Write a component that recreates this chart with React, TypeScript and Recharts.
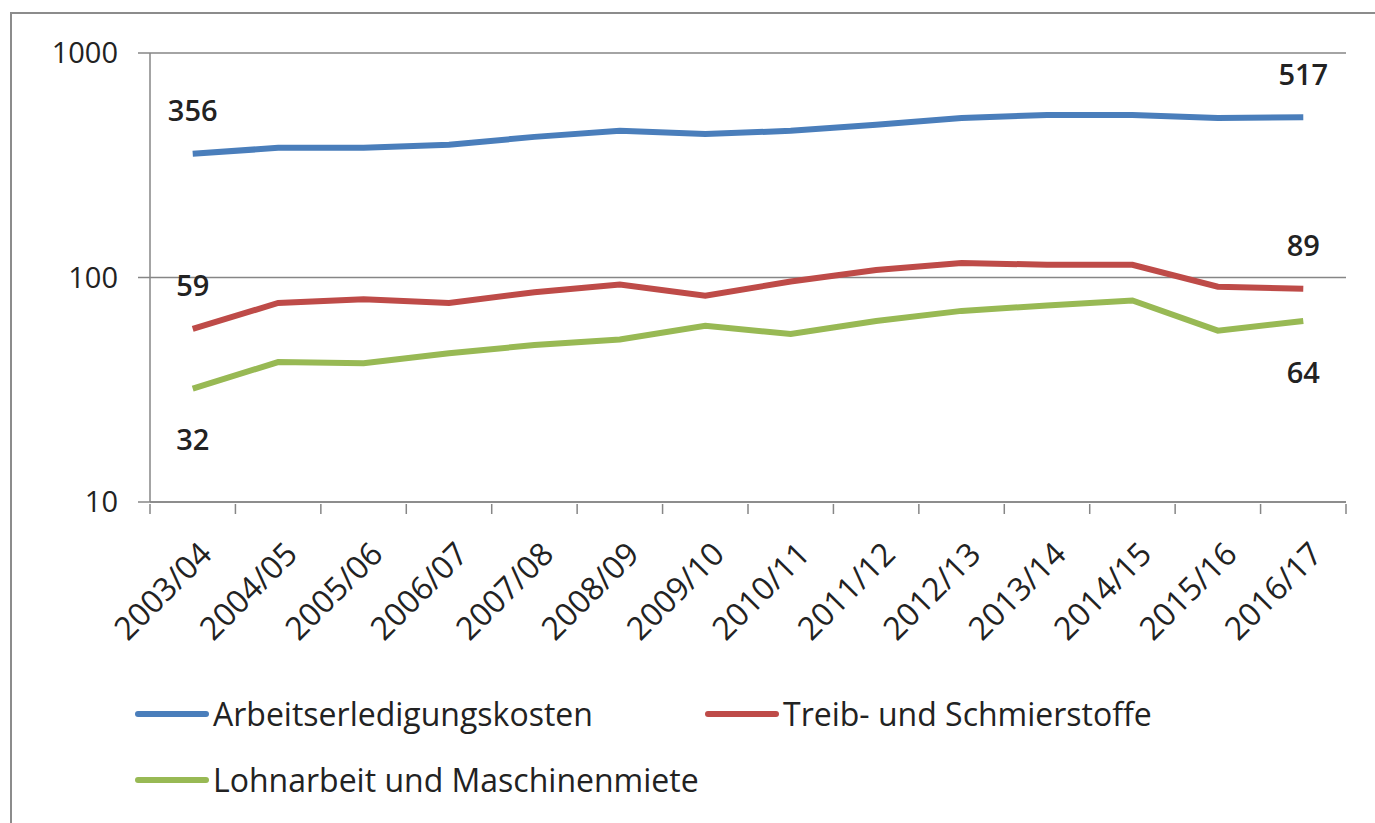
import React from 'react';
import { LineChart, Line, XAxis, YAxis, CartesianGrid, LabelList } from 'recharts';

const categories = [
  '2003/04', '2004/05', '2005/06', '2006/07', '2007/08', '2008/09', '2009/10',
  '2010/11', '2011/12', '2012/13', '2013/14', '2014/15', '2015/16', '2016/17',
];
const arbeitserledigung = [356, 378, 378, 390, 423, 450, 436, 450, 479, 514, 530, 530, 514, 517];
const treibstoffe = [59, 77, 80, 77, 86, 93, 83, 96, 108, 116, 114, 114, 91, 89];
const lohnarbeit = [32, 42, 41.5, 46, 50, 53, 61, 56, 64, 71, 75, 79, 58, 64];
const yTicks = [10, 100, 1000];

const seriesNames = ['Arbeitserledigungskosten', 'Treib- und Schmierstoffe', 'Lohnarbeit und Maschinenmiete'];
const colors = ['#4a7ebb', '#be4b48', '#98b954'];

const data = categories.map((c, i) => ({
  year: c,
  a: arbeitserledigung[i],
  t: treibstoffe[i],
  l: lohnarbeit[i],
}));

const FONT = '"Open Sans", sans-serif';
const GRID = '#868686';
const BAND = (1346 - 150) / categories.length;

// Excel style: tick marks between categories, labels rotated
const XTick = (props: any) => {
  const { x, y, payload, index } = props;
  const last = index === categories.length - 1;
  return (
    <g>
      <line x1={x - BAND / 2} x2={x - BAND / 2} y1={y} y2={y + 10} stroke={GRID} strokeWidth={1.5} />
      {last && <line x1={x + BAND / 2} x2={x + BAND / 2} y1={y} y2={y + 10} stroke={GRID} strokeWidth={1.5} />}
      <text
        x={x + 21}
        y={y + 52}
        textAnchor="end"
        transform={`rotate(-45, ${x + 21}, ${y + 52})`}
        fontSize={32}
        fontFamily={FONT}
        fill="#222"
      >
        {payload.value}
      </text>
    </g>
  );
};

// only first and last values get a label
const endLabel = (dy: number) => (props: any) => {
  const { x, y, value, index } = props;
  if (index !== 0 && index !== categories.length - 1) return null;
  return (
    <text x={x} y={y + dy} textAnchor="middle" dominantBaseline="central" fontSize={29} fontWeight={600} fontFamily={FONT} fill="#222">
      {Math.round(value)}
    </text>
  );
};

const LegendItem = ({ name, color, left, top }: { name: string; color: string; left: number; top: number }) => (
  <div style={{ position: 'absolute', left, top, display: 'flex', alignItems: 'center', fontFamily: FONT, fontSize: 32, color: '#222', whiteSpace: 'nowrap' }}>
    <div style={{ width: 74, height: 6, background: color, borderRadius: 3, marginRight: 4 }} />
    <span>{name}</span>
  </div>
);

export default function App() {
  return (
    <div style={{ position: 'absolute', left: 0, top: 0, width: 1375, height: 823, background: '#fff', overflow: 'hidden' }}>
      <div style={{ position: 'absolute', left: 10, top: 12, width: 1400, height: 900, borderTop: '2px solid #8c8c8c', borderLeft: '2px solid #8c8c8c' }} />
      <div style={{ position: 'absolute', left: 0, top: 0 }}>
        <LineChart width={1375} height={823} data={data} margin={{ top: 53, right: 29, left: 10, bottom: 171 }}>
          <CartesianGrid vertical={false} stroke={GRID} strokeWidth={1.5} />
          <XAxis
            dataKey="year"
            height={150}
            padding={{ left: BAND / 2, right: BAND / 2 }}
            axisLine={{ stroke: GRID, strokeWidth: 1.5 }}
            tickLine={false}
            tickSize={0}
            tick={<XTick />}
            interval={0}
          />
          <YAxis
            type="number"
            scale="log"
            domain={[10, 1000]}
            ticks={yTicks}
            allowDataOverflow
            width={140}
            axisLine={{ stroke: GRID, strokeWidth: 1.5 }}
            tickLine={{ stroke: GRID, strokeWidth: 1.5 }}
            tickSize={12}
            tickMargin={20}
            tick={{ fill: '#222', fontSize: 29, fontFamily: FONT }}
          />
          <Line dataKey="a" name={seriesNames[0]} stroke={colors[0]} strokeWidth={6} dot={false} isAnimationActive={false}>
            <LabelList dataKey="a" content={endLabel(-44)} />
          </Line>
          <Line dataKey="t" name={seriesNames[1]} stroke={colors[1]} strokeWidth={6} dot={false} isAnimationActive={false}>
            <LabelList dataKey="t" content={endLabel(-44)} />
          </Line>
          <Line dataKey="l" name={seriesNames[2]} stroke={colors[2]} strokeWidth={6} dot={false} isAnimationActive={false}>
            <LabelList dataKey="l" content={endLabel(50)} />
          </Line>
        </LineChart>
      </div>
      <LegendItem name={seriesNames[0]} color={colors[0]} left={135} top={692} />
      <LegendItem name={seriesNames[1]} color={colors[1]} left={705} top={692} />
      <LegendItem name={seriesNames[2]} color={colors[2]} left={135} top={758} />
    </div>
  );
}
